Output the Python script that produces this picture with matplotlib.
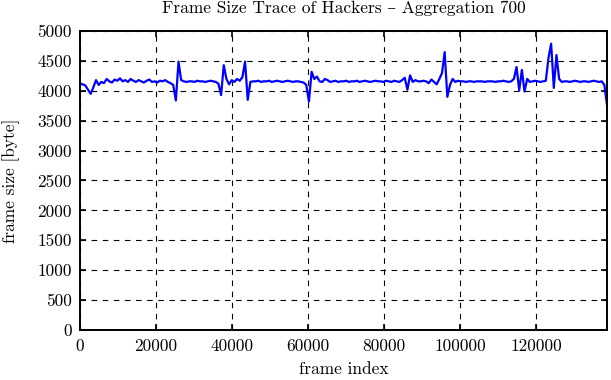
import numpy as np
import matplotlib
matplotlib.use("Agg")
import matplotlib.pyplot as plt

plt.rcParams['font.family'] = ['cmr10', 'DejaVu Serif']
plt.rcParams['axes.formatter.use_mathtext'] = True
plt.rcParams['mathtext.fontset'] = 'cm'

aggregation = 700
frame_sizes = [
    4120, 4110, 4090, 4020, 3950, 4060, 4180, 4100, 4150, 4130,
    4200, 4160, 4140, 4190, 4170, 4210, 4160, 4180, 4150, 4200,
    4170, 4150, 4180, 4160, 4140, 4170, 4190, 4150, 4160, 4140,
    4170, 4160, 4180, 4150, 4130, 4100, 3840, 4490, 4180, 4160,
    4150, 4160, 4160, 4150, 4170, 4160, 4160, 4150, 4160, 4170,
    4160, 4150, 4120, 3930, 4430, 4200, 4110, 4180, 4150, 4200,
    4170, 4230, 4490, 3850, 4150, 4160, 4160, 4170, 4150, 4160,
    4160, 4170, 4150, 4160, 4170, 4160, 4150, 4160, 4170, 4160,
    4150, 4160, 4160, 4150, 4140, 4100, 3820, 4320, 4200, 4240,
    4160, 4150, 4200, 4180, 4150, 4160, 4170, 4150, 4160, 4160,
    4170, 4150, 4160, 4160, 4170, 4150, 4160, 4170, 4160, 4150,
    4160, 4170, 4160, 4160, 4150, 4170, 4160, 4150, 4170, 4160,
    4150, 4180, 4220, 4020, 4260, 4150, 4180, 4160, 4160, 4170,
    4160, 4130, 4190, 4150, 4110, 4200, 4300, 4650, 3900, 4100,
    4200, 4150, 4170, 4160, 4160, 4150, 4160, 4160, 4150, 4160,
    4160, 4160, 4150, 4160, 4160, 4160, 4150, 4160, 4160, 4170,
    4160, 4150, 4160, 4200, 4400, 4010, 4350, 3990, 4200, 4150,
    4160, 4170, 4160, 4150, 4160, 4170, 4550, 4790, 4050, 4600,
    4200, 4150, 4160, 4160, 4150, 4160, 4170, 4160, 4150, 4160,
    4160, 4150, 4160, 4170, 4160, 4150, 4160, 4100, 3760,
]
frame_index = np.arange(len(frame_sizes)) * aggregation

x_ticks = [0, 20000, 40000, 60000, 80000, 100000, 120000]
y_ticks = [0, 500, 1000, 1500, 2000, 2500, 3000, 3500, 4000, 4500, 5000]

fig = plt.figure(figsize=(6.11, 3.80), dpi=100)
ax = fig.add_axes([0.131, 0.132, 0.8625, 0.786])
ax.plot(frame_index, frame_sizes, color='#0000ff', linewidth=1.6)
ax.set_xlim(0, frame_index[-1])
ax.set_ylim(0, 5000)
ax.set_xticks(x_ticks)
ax.set_yticks(y_ticks)
ax.set_xticklabels([str(t) for t in x_ticks])
ax.set_yticklabels([str(t) for t in y_ticks])
ax.grid(True, color='black', linestyle=(0, (5, 5)), linewidth=0.8)
ax.tick_params(direction='in', top=True, right=True, length=4, width=1.2, labelsize=12.5)
ax.tick_params(axis='x', pad=6)
ax.tick_params(axis='y', pad=6)
for s in ax.spines.values():
    s.set_linewidth(1.4)
ax.set_xlabel('frame index', fontsize=12.5, labelpad=6)
ax.set_ylabel('frame size [byte]', fontsize=12.5, labelpad=12)
ax.set_title('Frame Size Trace of Hackers \u2013 Aggregation 700', fontsize=12.5, pad=13)
fig.savefig('out.png', dpi=100)
